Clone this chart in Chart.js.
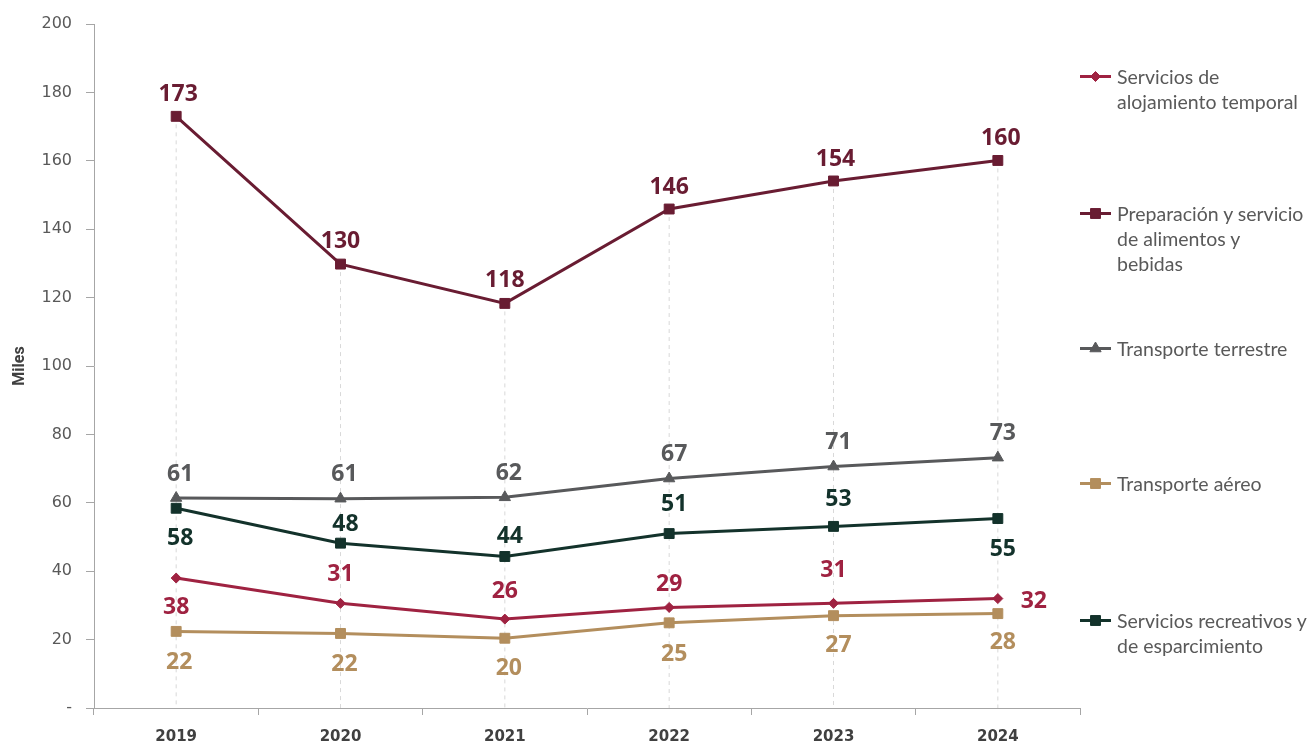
<!DOCTYPE html>
<html>
<head>
  <title>Miles por actividad</title>
  <script src="https://cdn.jsdelivr.net/npm/chart.js"></script>
  <style>
    body { margin: 0; background: white; }
    .wrap { position: relative; width: 1310px; height: 743px; }
    #legend { position: absolute; left: 1080px; top: 0; width: 230px; height: 743px; font-family: Lato, sans-serif; font-size: 19.5px; color: #595959; }
    .item { position: absolute; left: 0; line-height: 25px; white-space: nowrap; }
    .item canvas { position: absolute; left: 0; top: 0; }
    .item span { display: block; padding-left: 37px; }
  </style>
</head>
<body>
  <div class="wrap">
    <canvas id="chart" width="1310" height="743"></canvas>
    <div id="legend"></div>
  </div>

  <script>
    const years = ["2019", "2020", "2021", "2022", "2023", "2024"];
    const alojamiento = [38.0, 30.6, 26.0, 29.4, 30.6, 32.0];
    const alimentos = [173.0, 129.8, 118.3, 145.9, 154.1, 160.1];
    const terrestre = [61.4, 61.2, 61.6, 67.1, 70.6, 73.2];
    const aereo = [22.4, 21.8, 20.4, 24.9, 27.0, 27.6];
    const recreativos = [58.4, 48.2, 44.3, 51.0, 53.1, 55.4];
    const yTicks = [0, 20, 40, 60, 80, 100, 120, 140, 160, 180, 200];

    // label offsets (dx, dy) from each point
    const labelOffsets = [
      [[0, 29], [0, -29], [0, -28], [0, -23], [0, -33], [36, 3]],
      [[2, -22], [0, -23], [0, -23], [0, -22], [2, -22], [3, -22]],
      [[4, -24], [4, -24], [4, -24], [5, -24], [5, -24], [5, -24]],
      [[3, 31], [4, 31], [4, 30], [5, 32], [5, 30], [5, 29]],
      [[4, 30], [5, -19], [5, -20], [5, -29], [5, -27], [5, 31]]
    ];

    const series = [
      { label: "Servicios de\nalojamiento temporal", data: alojamiento, color: "#9F2241", style: "rectRot", r: 5, top: 64 },
      { label: "Preparación y servicio\nde alimentos y\nbebidas", data: alimentos, color: "#691C32", style: "rect", r: 7, top: 201 },
      { label: "Transporte terrestre", data: terrestre, color: "#58595B", style: "triangle", r: 6.5, top: 336 },
      { label: "Transporte aéreo", data: aereo, color: "#B38E5D", style: "rect", r: 7, top: 471 },
      { label: "Servicios recreativos y\nde esparcimiento", data: recreativos, color: "#13322B", style: "rect", r: 7, top: 608 }
    ];

    const dropLines = {
      id: "dropLines",
      beforeDatasetsDraw(chart) {
        const ctx = chart.ctx;
        const x = chart.scales.x, y = chart.scales.y;
        ctx.save();
        ctx.strokeStyle = "#d9d9d9";
        ctx.lineWidth = 1;
        ctx.setLineDash([4, 4]);
        years.forEach((yr, i) => {
          const top = Math.max(...series.map(s => s.data[i]));
          const px = x.getPixelForValue(i);
          ctx.beginPath();
          ctx.moveTo(px, y.getPixelForValue(top));
          ctx.lineTo(px, y.getPixelForValue(0));
          ctx.stroke();
        });
        ctx.restore();
      }
    };

    const valueLabels = {
      id: "valueLabels",
      afterDatasetsDraw(chart) {
        const ctx = chart.ctx;
        ctx.save();
        ctx.font = "700 23px 'Open Sans'";
        ctx.textAlign = "center";
        ctx.textBaseline = "middle";
        chart.data.datasets.forEach((ds, di) => {
          const meta = chart.getDatasetMeta(di);
          ctx.fillStyle = ds.borderColor;
          meta.data.forEach((pt, i) => {
            const off = labelOffsets[di][i];
            ctx.fillText(Math.round(ds.data[i]), pt.x + off[0], pt.y + off[1]);
          });
        });
        ctx.restore();
      }
    };

    const ctx = document.getElementById("chart").getContext("2d");
    const chart = new Chart(ctx, {
      type: "line",
      data: {
        labels: years,
        datasets: series.map(s => ({
          label: s.label,
          data: s.data,
          borderColor: s.color,
          backgroundColor: s.color,
          borderWidth: 3,
          pointStyle: s.style,
          pointRadius: s.r,
          pointBorderWidth: 1,
          tension: 0
        }))
      },
      options: {
        responsive: false,
        animation: false,
        layout: { padding: { top: 24, right: 230, left: 0, bottom: 0 } },
        plugins: { legend: { display: false }, tooltip: { enabled: false } },
        scales: {
          x: {
            offset: true,
            grid: { offset: true, drawOnChartArea: false, tickColor: "#a6a6a6", tickLength: 7 },
            border: { color: "#a6a6a6", width: 1 },
            ticks: { color: "#404040", font: { family: "DejaVu Sans", size: 15, weight: "bold" }, padding: 13 },
            afterFit(scale) { scale.height = 35; }
          },
          y: {
            min: 0,
            max: 200,
            afterBuildTicks(scale) { scale.ticks = yTicks.map(v => ({ value: v })); },
            grid: { drawOnChartArea: false, tickColor: "#a6a6a6", tickLength: 8 },
            border: { color: "#a6a6a6", width: 1 },
            ticks: {
              color: "#595959",
              font: { family: "DejaVu Sans", size: 16 },
              padding: 14,
              callback: v => v === 0 ? "-" : v
            },
            title: { display: true, text: "Miles", color: "#404040", font: { family: "Roboto", size: 16, weight: "bold" }, padding: { top: 10, bottom: 0 } },
            afterFit(scale) { scale.width = 94; }
          }
        }
      },
      plugins: [dropLines, valueLabels]
    });

    // legend
    const legend = document.getElementById("legend");
    series.forEach(s => {
      const item = document.createElement("div");
      item.className = "item";
      item.style.top = s.top + "px";
      const c = document.createElement("canvas");
      c.width = 34; c.height = 25;
      const g = c.getContext("2d");
      g.strokeStyle = s.color; g.lineWidth = 3;
      g.beginPath(); g.moveTo(0, 12.5); g.lineTo(31, 12.5); g.stroke();
      g.fillStyle = s.color; g.strokeStyle = s.color; g.lineWidth = 1;
      Chart.helpers.drawPoint(g, { pointStyle: s.style, radius: s.r, rotation: 0, borderWidth: 1 }, 15.5, 12.5);
      item.appendChild(c);
      s.label.split("\n").forEach(line => {
        const sp = document.createElement("span");
        sp.textContent = line;
        item.appendChild(sp);
      });
      legend.appendChild(item);
    });
  </script>
</body>
</html>
